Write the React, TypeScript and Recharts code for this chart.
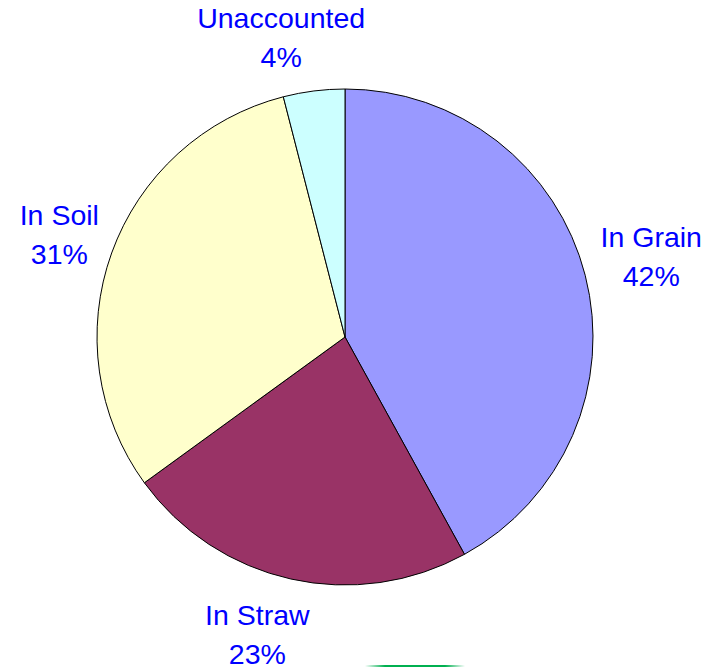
import React from "react";
import { PieChart, Pie, Cell } from "recharts";

const categories = ["In Grain", "In Straw", "In Soil", "Unaccounted"];
const values = [42, 23, 31, 4];
const colors = ["#9999FF", "#993366", "#FFFFCC", "#CCFFFF"];
// label nudges (px) applied after radial placement
const labelNudgeX = [6, -20, 6, -25];
const labelNudgeY = [-3, -5, 3, 9];

const data = categories.map((name, i) => ({ name, value: values[i], idx: i }));

const RAD = Math.PI / 180;

const renderLabel = (props: any) => {
  const { cx, cy, midAngle, outerRadius, name, value, index } = props;
  const r = outerRadius + 62;
  const x = cx + r * Math.cos(-midAngle * RAD) + labelNudgeX[index];
  const y = cy + r * Math.sin(-midAngle * RAD) + labelNudgeY[index];
  return (
    <text
      x={x}
      y={y}
      textAnchor="middle"
      fill="#0000FF"
      fontFamily="'Liberation Sans', Arial, sans-serif"
      fontSize={28.5}
    >
      <tspan x={x} y={y - 10}>{name}</tspan>
      <tspan x={x} y={y + 29}>{value}%</tspan>
    </text>
  );
};

export default function App() {
  return (
    <div style={{ position: "absolute", left: 0, top: 0, width: 723, height: 668, background: "#fff", overflow: "hidden" }}>
      <PieChart width={723} height={668} margin={{ top: 0, right: 0, bottom: 0, left: 0 }}>
        <Pie
          data={data}
          dataKey="value"
          nameKey="name"
          cx={345}
          cy={337}
          outerRadius={248}
          startAngle={90}
          endAngle={-270}
          stroke="#000"
          strokeWidth={1}
          label={renderLabel}
          labelLine={false}
          isAnimationActive={false}
        >
          {data.map((d, i) => (
            <Cell key={d.name} fill={colors[i]} />
          ))}
        </Pie>
      </PieChart>
      <div
        style={{
          position: "absolute",
          left: 365,
          top: 665,
          width: 100,
          height: 2,
          background: "linear-gradient(to right, rgba(0,176,80,0), #00B050 20%, #00B050 80%, rgba(0,176,80,0))",
        }}
      />
    </div>
  );
}
